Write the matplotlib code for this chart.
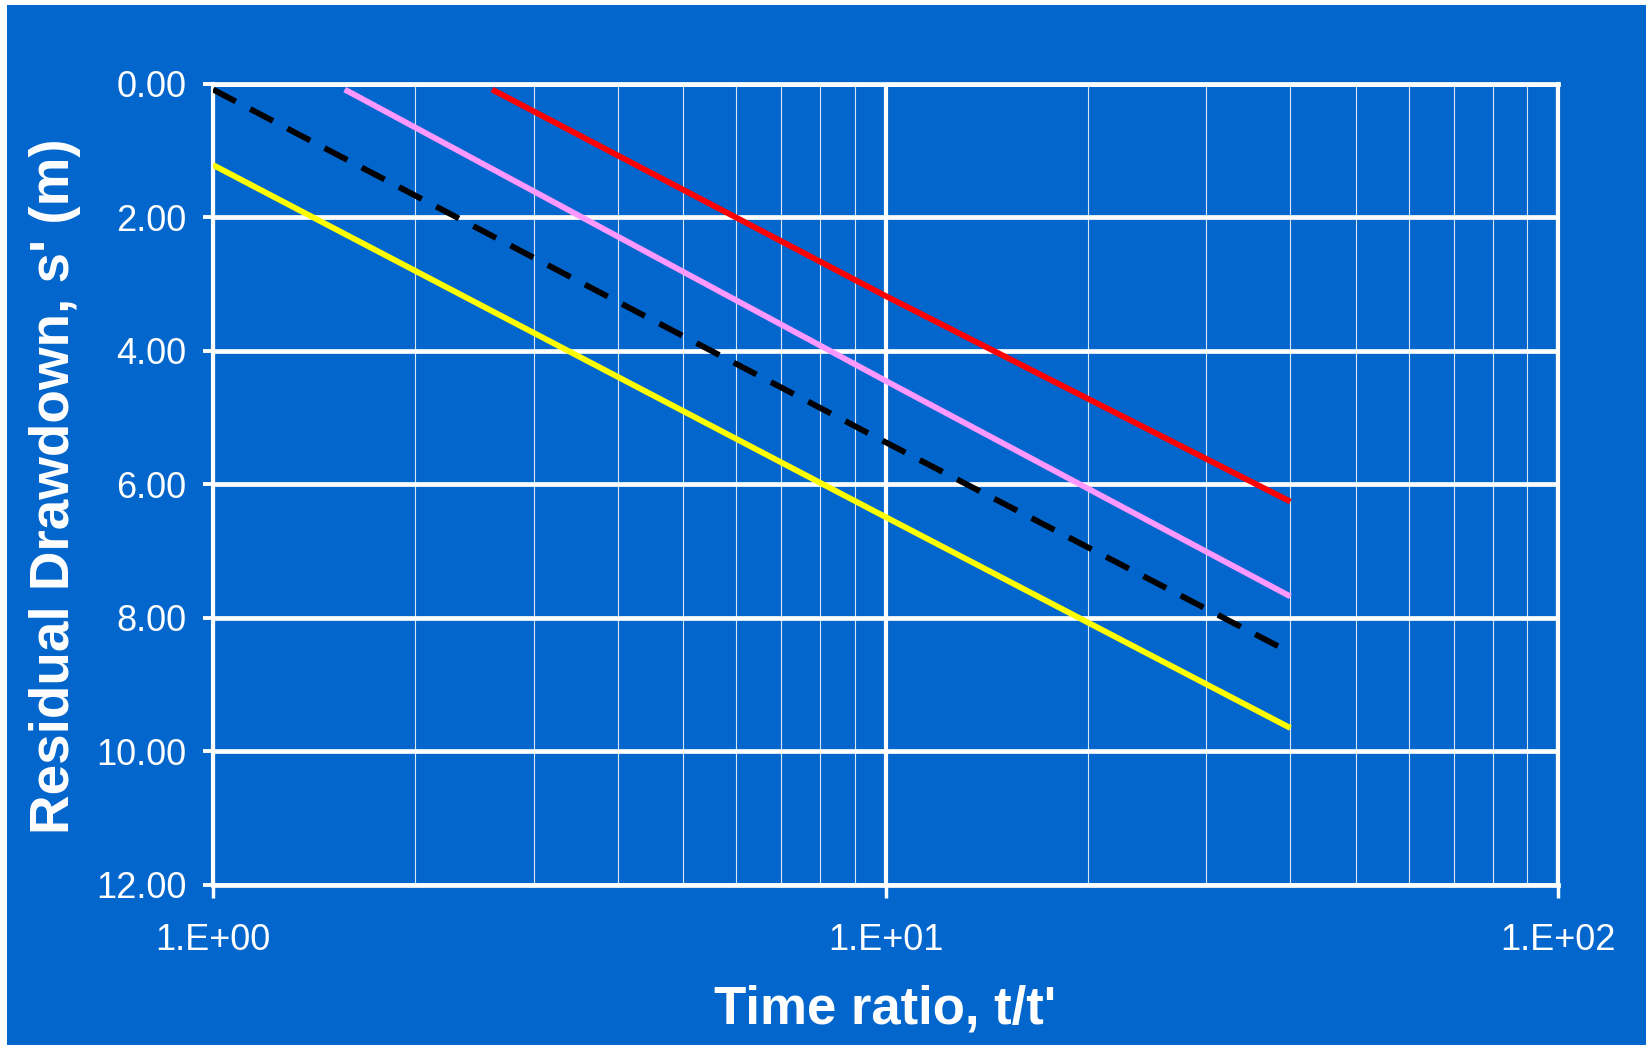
import matplotlib
matplotlib.use('Agg')
import matplotlib.pyplot as plt
from matplotlib.patches import Rectangle
from matplotlib.ticker import FixedLocator, FixedFormatter, NullFormatter

# data (semi-log straight lines)
red_t = [2.6, 10, 40]
red_s = [0.09, 3.18, 6.26]
pink_t = [1.57, 10, 40]
pink_s = [0.09, 4.45, 7.68]
black_t = [1, 10, 40]
black_s = [0.09, 5.37, 8.52]
yellow_t = [1, 10, 40]
yellow_s = [1.22, 6.49, 9.65]

y_ticks = [0, 2, 4, 6, 8, 10, 12]
x_ticks = [1, 10, 100]
x_tick_labels = ['1.E+00', '1.E+01', '1.E+02']
x_minor = [2, 3, 4, 5, 6, 7, 8, 9, 20, 30, 40, 50, 60, 70, 80, 90]

blue = '#0366CC'
W, H = 1646, 1045

fig = plt.figure(figsize=(W / 100, H / 100), dpi=100, facecolor='white')
fig.patches.append(Rectangle((7 / W, 0), 1, 1 - 5 / H, transform=fig.transFigure,
                             facecolor=blue, edgecolor='none', zorder=-1))

left, right, top, bottom = 213, 1558, 83.5, 885
ax = fig.add_axes([left / W, 1 - bottom / H, (right - left) / W, (bottom - top) / H])
ax.set_facecolor(blue)

ax.set_xscale('log')
ax.set_xlim(1, 100)
ax.set_ylim(12, 0)

# grid
ax.xaxis.set_major_locator(FixedLocator(x_ticks))
ax.xaxis.set_major_formatter(FixedFormatter(x_tick_labels))
ax.xaxis.set_minor_locator(FixedLocator(x_minor))
ax.xaxis.set_minor_formatter(NullFormatter())
ax.yaxis.set_major_locator(FixedLocator(y_ticks))
ax.yaxis.set_major_formatter(FixedFormatter(['{:.2f}'.format(v) for v in y_ticks]))

ax.grid(True, axis='y', which='major', color='white', linewidth=3.4)
ax.grid(True, axis='x', which='major', color='white', linewidth=3.0)
ax.grid(True, axis='x', which='minor', color='white', linewidth=0.8, alpha=0.85)
ax.set_axisbelow(True)

for sp in ['left', 'right']:
    ax.spines[sp].set_color('white')
    ax.spines[sp].set_linewidth(3.0)
for sp in ['top', 'bottom']:
    ax.spines[sp].set_color('white')
    ax.spines[sp].set_linewidth(3.4)

ax.tick_params(axis='y', which='major', direction='out', length=7.2, width=2.8,
               color='white', labelcolor='white', pad=12)
ax.tick_params(axis='x', which='major', direction='out', length=9.4, width=2.5,
               color='white', labelcolor='white', pad=18)
ax.tick_params(axis='x', which='minor', length=0)
for lab in ax.get_xticklabels() + ax.get_yticklabels():
    lab.set_fontfamily(['Liberation Sans', 'DejaVu Sans'])
    lab.set_fontsize(26)

# lines
lw = 4.2
ax.plot(red_t, red_s, color='#FF0000', linewidth=lw, solid_capstyle='butt', zorder=3)
ax.plot(pink_t, pink_s, color='#FF99FF', linewidth=lw, solid_capstyle='butt', zorder=3)
ax.plot(black_t, black_s, color='black', linewidth=lw, dashes=(4.4, 2.8),
        dash_capstyle='butt', zorder=3)
ax.plot(yellow_t, yellow_s, color='#FFFF00', linewidth=lw, solid_capstyle='butt', zorder=3)

ax.set_xlabel("Time ratio, t/t'", color='white', fontsize=38, fontweight='bold',
              family=['Liberation Sans', 'DejaVu Sans'])
ax.xaxis.set_label_coords(0.5, -(1023 - bottom) / (bottom - top))
ax.xaxis.label.set_va('baseline')

ax.set_ylabel("Residual Drawdown, s' (m)", color='white', fontsize=39.5, fontweight='bold',
              family=['Liberation Sans', 'DejaVu Sans'])
ax.yaxis.set_label_coords((69 - left) / (right - left), 1 - (486 - top) / (bottom - top))
ax.yaxis.label.set_va('baseline')

fig.savefig('out.png', dpi=100, facecolor=fig.get_facecolor())
